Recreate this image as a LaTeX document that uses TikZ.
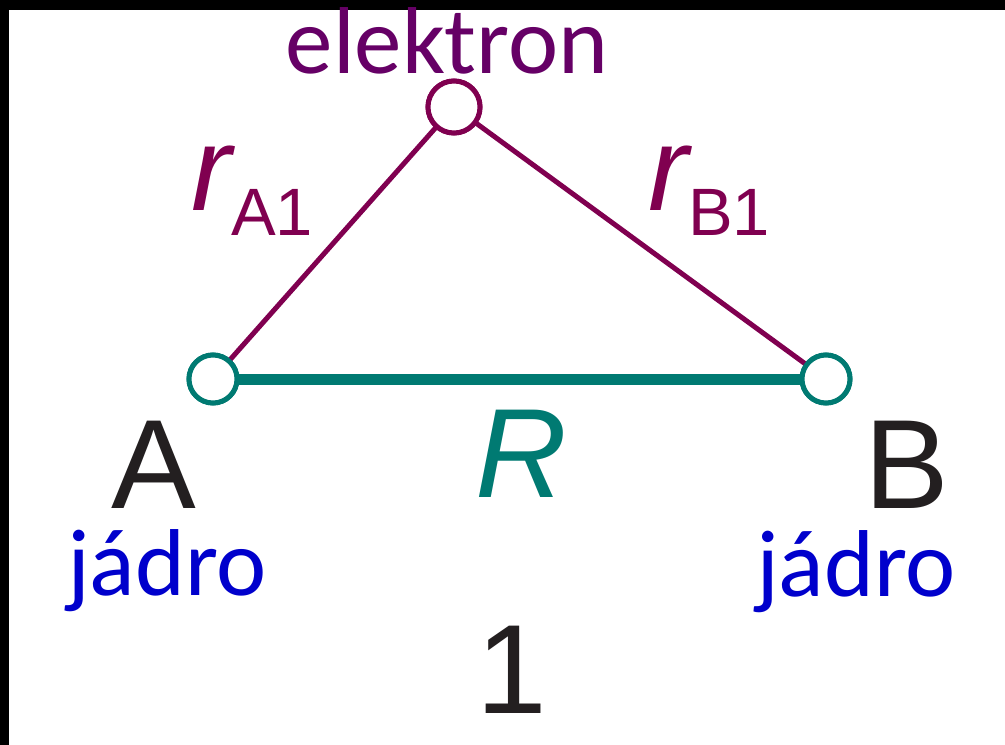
\documentclass[tikz,border=0pt]{standalone}
\usepackage{fontspec}
\newfontfamily\arialfont{Liberation Sans}
\newfontfamily\calibfont{Carlito}
\definecolor{purp}{RGB}{128,0,80}
\definecolor{elek}{RGB}{102,0,102}
\definecolor{tealc}{RGB}{0,122,114}
\definecolor{jblue}{RGB}{0,0,204}
\definecolor{inkc}{RGB}{35,31,32}
\tikzset{
  dot/.style={circle, draw, fill=white, line width=5pt, inner sep=0pt, outer sep=0pt},
  big/.style={font=\arialfont\fontsize{127}{130}\selectfont, inner sep=0pt},
  cal/.style={font=\calibfont\fontsize{95}{100}\selectfont, inner sep=0pt},
}
\begin{document}
\begin{tikzpicture}[x=1pt,y=-1pt]
\useasboundingbox (0,0) rectangle (1005,745);
\fill[white] (0,0) rectangle (1005,745);
\fill[black] (0,0) rectangle (1005,10);
\fill[black] (0,0) rectangle (9,745);
% nodes
\node[dot, draw=tealc, minimum size=48pt] (eA) at (213,379) {};
\node[dot, draw=tealc, minimum size=48pt] (eB) at (826,379) {};
\node[dot, draw=purp, minimum size=52pt] (eE) at (454,107) {};
% connectors
\draw[purp, line width=5pt] (eA) -- (eE);
\draw[purp, line width=5pt] (eE) -- (eB);
\draw[tealc, line width=11pt] (eA) -- (eB);
% redraw circles on top
\node[dot, draw=tealc, minimum size=48pt] at (eA) {};
\node[dot, draw=tealc, minimum size=48pt] at (eB) {};
\node[dot, draw=purp, minimum size=52pt] at (eE) {};
% labels
\node[cal, text=elek, anchor=base] (tE) at (447,73) {elektron};
\node[font=\arialfont, text=purp, inner sep=0pt, anchor=base west] (rA) at (191,210)
  {\fontsize{120}{120}\selectfont\itshape r\raisebox{-25pt}{\fontsize{67}{67}\selectfont\upshape A1}};
\node[font=\arialfont, text=purp, inner sep=0pt, anchor=base west] (rB) at (648,210)
  {\fontsize{120}{120}\selectfont\itshape r\raisebox{-25pt}{\fontsize{67}{67}\selectfont\upshape B1}};
\node[big, text=inkc, anchor=base] (lA) at (154,508) {A};
\node[big, text=inkc, anchor=base] (lB) at (907,508) {B};
\node[big, text=tealc, anchor=base] (lR) at (521,497) {\itshape R};
\node[cal, text=jblue, anchor=base] (jA) at (167,595) {jádro};
\node[cal, text=jblue, anchor=base] (jB) at (856,596) {jádro};
\node[big, text=inkc, anchor=base] (n1) at (512,713) {1};
\end{tikzpicture}
\end{document}
